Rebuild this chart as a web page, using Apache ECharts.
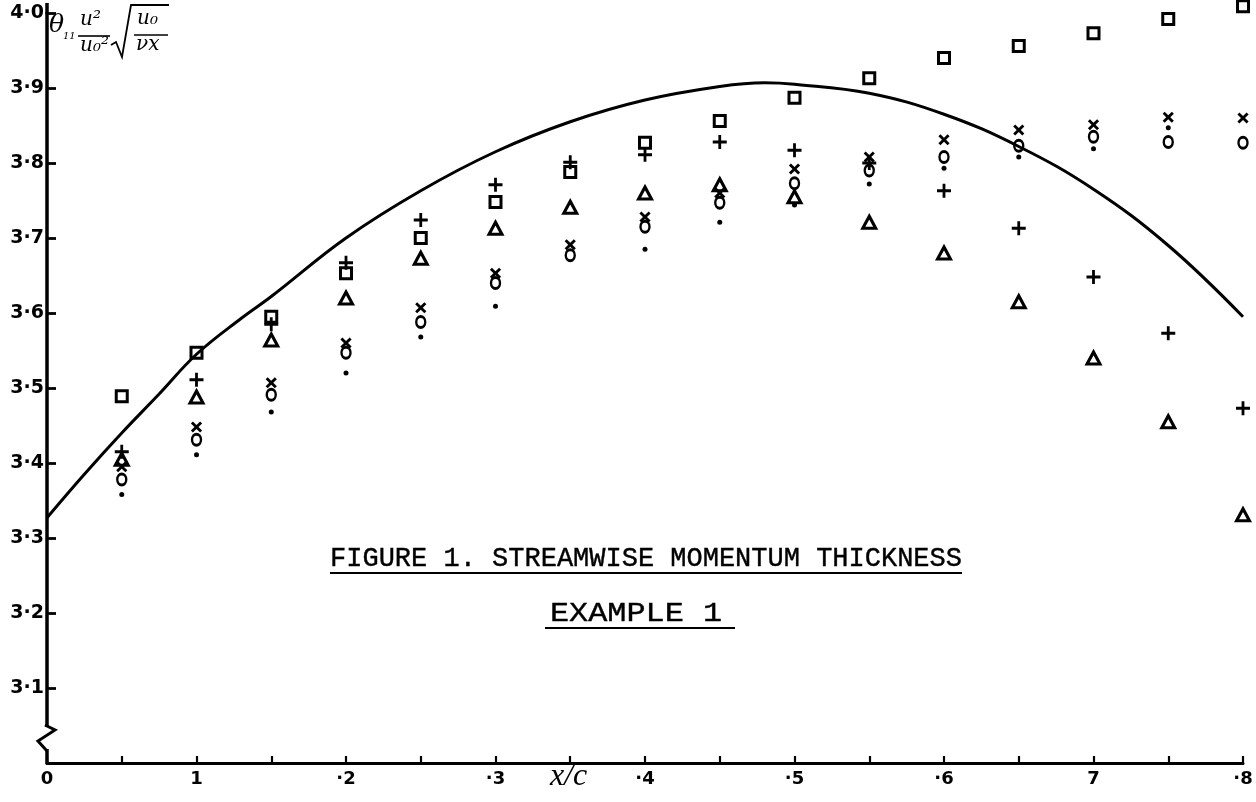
<!DOCTYPE html>
<html>
<head>
<meta charset="utf-8">
<title>Streamwise momentum thickness</title>
<script src="https://cdn.jsdelivr.net/npm/echarts@6/dist/echarts.min.js"></script>
<style>
  html, body { margin: 0; padding: 0; background: #fff; }
  #chart { width: 1256px; height: 802px; }
</style>
</head>
<body>
<div id="chart"></div>
<script>
// Stations along the chord, x/c
const stations = [0.05, 0.10, 0.15, 0.20, 0.25, 0.30, 0.35, 0.40,
                  0.45, 0.50, 0.55, 0.60, 0.65, 0.70, 0.75, 0.80];

// Measured / computed values at each station, one list per marker
const squareVals   = [3.489, 3.547, 3.595, 3.653, 3.700, 3.748, 3.788, 3.827,
                      3.856, 3.887, 3.913, 3.940, 3.956, 3.973, 3.992, 4.009];
const plusVals     = [3.415, 3.511, 3.585, 3.667, 3.724, 3.771, 3.801, 3.811,
                      3.828, 3.817, 3.800, 3.763, 3.713, 3.648, 3.573, 3.473];
const triangleVals = [3.405, 3.488, 3.564, 3.620, 3.673, 3.713, 3.741, 3.760,
                      3.771, 3.755, 3.721, 3.680, 3.615, 3.540, 3.455, 3.331];
const crossVals    = [3.395, 3.448, 3.507, 3.560, 3.607, 3.653, 3.691, 3.728,
                      3.760, 3.792, 3.808, 3.831, 3.844, 3.851, 3.861, 3.860];
const circleVals   = [3.378, 3.431, 3.491, 3.547, 3.588, 3.640, 3.677, 3.715,
                      3.747, 3.773, 3.790, 3.808, 3.823, 3.835, 3.828, 3.827];
const dotVals      = [3.358, 3.411, 3.468, 3.520, 3.568, 3.609, null, 3.685,
                      3.721, 3.744, 3.772, 3.793, 3.808, 3.819, 3.847, null];

// Reference solution curve
const curveX = [0, 0.025, 0.05, 0.075, 0.10, 0.13, 0.15, 0.20, 0.25, 0.30,
                0.35, 0.40, 0.45, 0.48, 0.50, 0.55, 0.60, 0.65, 0.70, 0.75, 0.80];
const curveY = [3.327, 3.385, 3.440, 3.492, 3.545, 3.593, 3.622, 3.700, 3.763, 3.815,
                3.855, 3.884, 3.902, 3.907, 3.905, 3.893, 3.865, 3.822, 3.765, 3.690, 3.595];

// Axis tick labels as lettered on the sheet
const xTickLabels = { 0: '0', 10: '1', 20: '·2', 30: '·3', 40: '·4',
                      50: '·5', 60: '·6', 70: '7', 80: '·8' };
const yTickLabels = { 31: '3·1', 32: '3·2', 33: '3·3', 34: '3·4', 35: '3·5',
                      36: '3·6', 37: '3·7', 38: '3·8', 39: '3·9', 40: '4·0' };

const titleText = 'FIGURE 1. STREAMWISE MOMENTUM THICKNESS';
const subtitleText = 'EXAMPLE 1';

const pair = (xs, ys) => xs.map((x, i) => [x, ys[i]]);

const INK = '#000';
const PLUS_PATH = 'path://M4,0H6V4H10V6H6V10H4V6H0V4H4Z';
const CROSS_PATH = 'path://M3.9,0H6.1V3.9H10V6.1H6.1V10H3.9V6.1H0V3.9H3.9Z';
const hollow = { color: 'rgba(0,0,0,0)', borderColor: INK, borderWidth: 3, opacity: 1 };
const solid = { color: INK, opacity: 1 };

function markerSeries(name, vals, symbol, size, itemStyle, rotate) {
  return {
    name, type: 'scatter', data: pair(stations, vals),
    symbol, symbolSize: size, symbolRotate: rotate || 0,
    itemStyle, clip: false, silent: true, z: 5
  };
}

const chart = echarts.init(document.getElementById('chart'), null, { renderer: 'canvas' });

const labelFont = { color: INK, fontFamily: 'DejaVu Sans', fontWeight: 'bold', fontSize: 18 };
const typeFont = '27px "Liberation Mono"';

chart.setOption({
  backgroundColor: '#fff',
  animation: false,
  grid: { left: 47, right: 13, top: 13, bottom: 39, containLabel: false },
  xAxis: {
    type: 'value', min: 0, max: 0.8, interval: 0.05,
    axisLine: { lineStyle: { color: INK, width: 3 } },
    axisTick: { inside: true, length: 7, lineStyle: { color: INK, width: 2.2 } },
    axisLabel: Object.assign({
      margin: 7,
      formatter: v => xTickLabels[Math.round(v * 100)] || ''
    }, labelFont),
    splitLine: { show: false }
  },
  yAxis: {
    type: 'value', min: 3.0, max: 4.0, interval: 0.1,
    axisLine: { onZero: false, lineStyle: { color: INK, width: 3.5 } },
    axisTick: { inside: true, length: 9, lineStyle: { color: INK, width: 2.8 } },
    axisLabel: Object.assign({
      margin: 3,
      formatter: v => yTickLabels[Math.round(v * 10)] || ''
    }, labelFont, { fontSize: 19 }),
    splitLine: { show: false }
  },
  series: [
    {
      name: 'theory', type: 'line', data: pair(curveX, curveY),
      smooth: 0.4, showSymbol: false, silent: true,
      lineStyle: { color: INK, width: 3 }, z: 3
    },
    markerSeries('square', squareVals, 'rect', 11, hollow),
    markerSeries('plus', plusVals, PLUS_PATH, 14, solid),
    markerSeries('triangle', triangleVals, 'triangle', [13, 12], hollow),
    markerSeries('cross', crossVals, CROSS_PATH, 13, solid, 45),
    markerSeries('circle', circleVals, 'circle', [9, 11],
                 { color: 'rgba(0,0,0,0)', borderColor: INK, borderWidth: 2.6, opacity: 1 }),
    markerSeries('dot', dotVals, 'circle', 5, solid)
  ],
  graphic: [
    // ordinate continues a little above the top tick
    { type: 'line', shape: { x1: 47, y1: 3, x2: 47, y2: 14 },
      style: { stroke: INK, lineWidth: 3.5 } },

    // caption and its underline
    { type: 'text', x: 646, y: 545,
      style: { text: titleText, fill: INK, font: typeFont, align: 'center',
               stroke: INK, lineWidth: 0.4 } },
    { type: 'line', shape: { x1: 330, y1: 573, x2: 962, y2: 573 },
      style: { stroke: INK, lineWidth: 2.2 } },
    { type: 'text', x: 636, y: 600, scaleX: 1.18, originX: 0, originY: 0,
      style: { text: subtitleText, fill: INK, font: typeFont, align: 'center',
               stroke: INK, lineWidth: 0.4 } },
    { type: 'line', shape: { x1: 545, y1: 628, x2: 735, y2: 628 },
      style: { stroke: INK, lineWidth: 2.2 } },

    // x-axis name
    { type: 'text', x: 550, y: 761,
      style: { text: 'x/c', fill: INK, font: 'italic 32px "Liberation Serif"' } },

    // y-axis quantity:  θ11 (u²/u0²) √(u0 / νx)
    { type: 'text', x: 49, y: 13,
      style: { text: 'θ', fill: INK, font: 'italic 25px "DejaVu Serif"' } },
    { type: 'text', x: 63, y: 31,
      style: { text: '11', fill: INK, font: 'italic 10px "DejaVu Serif"' } },
    { type: 'text', x: 80, y: 10,
      style: { text: 'u²', fill: INK, font: 'italic 20px "DejaVu Serif"' } },
    { type: 'line', shape: { x1: 78, y1: 36, x2: 110, y2: 36 },
      style: { stroke: INK, lineWidth: 1.6 } },
    { type: 'text', x: 80, y: 36,
      style: { text: 'u₀²', fill: INK, font: 'italic 20px "DejaVu Serif"' } },
    { type: 'polyline', shape: { points: [[111, 45], [116, 42], [122, 57], [131, 5], [169, 5]] },
      style: { stroke: INK, lineWidth: 1.8, fill: null } },
    { type: 'text', x: 137, y: 9,
      style: { text: 'u₀', fill: INK, font: 'italic 20px "DejaVu Serif"' } },
    { type: 'line', shape: { x1: 134, y1: 35, x2: 168, y2: 35 },
      style: { stroke: INK, lineWidth: 1.6 } },
    { type: 'text', x: 136, y: 35,
      style: { text: 'νx', fill: INK, font: 'italic 20px "DejaVu Serif"' } },

    // break in the ordinate near its foot
    { type: 'rect', shape: { x: 40, y: 727, width: 14, height: 22 },
      style: { fill: '#fff' }, z: 100 },
    { type: 'polyline', shape: { points: [[45, 725], [55, 730], [38, 741], [47, 751]] },
      style: { stroke: INK, lineWidth: 3, fill: null }, z: 101 }
  ]
});
</script>
</body>
</html>
